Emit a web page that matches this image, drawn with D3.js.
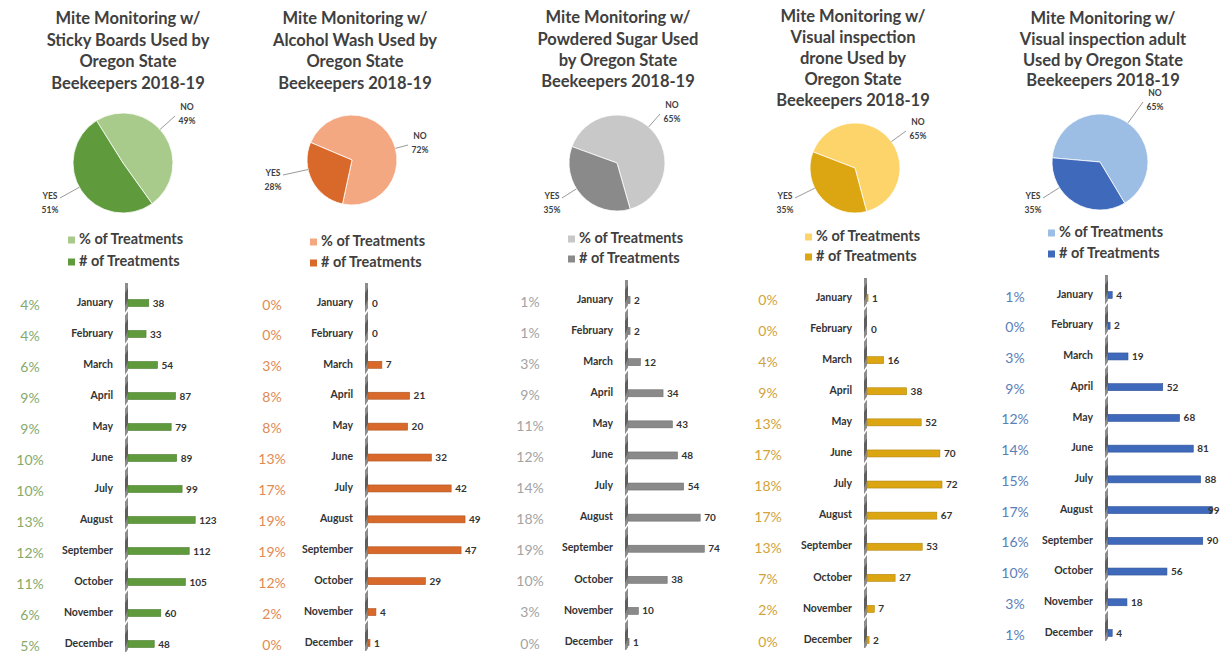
<!DOCTYPE html>
<html><head><meta charset="utf-8">
<script src="https://cdn.jsdelivr.net/npm/d3@7/dist/d3.min.js"></script>
<style>
html,body{margin:0;padding:0;background:#fff;}
svg{display:block;font-family:Lato, "Open Sans", sans-serif;}
</style></head>
<body><svg id="chart" width="1221" height="654"></svg>
<script>
// ---------- DATA ----------
const months = ["January","February","March","April","May","June","July","August","September","October","November","December"];

const titles = [
  ["Mite Monitoring w/","Sticky Boards Used by","Oregon State","Beekeepers 2018-19"],
  ["Mite Monitoring w/","Alcohol Wash Used by","Oregon State","Beekeepers 2018-19"],
  ["Mite Monitoring w/","Powdered Sugar Used","by Oregon State","Beekeepers 2018-19"],
  ["Mite Monitoring w/","Visual inspection","drone Used by","Oregon State","Beekeepers 2018-19"],
  ["Mite Monitoring w/","Visual inspection adult","Used by Oregon State","Beekeepers 2018-19"]
];

const stickyCounts  = [38,33,54,87,79,89,99,123,112,105,60,48];
const stickyPct     = [4,4,6,9,9,10,10,13,12,11,6,5];
const alcoholCounts = [0,0,7,21,20,32,42,49,47,29,4,1];
const alcoholPct    = [0,0,3,8,8,13,17,19,19,12,2,0];
const sugarCounts   = [2,2,12,34,43,48,54,70,74,38,10,1];
const sugarPct      = [1,1,3,9,11,12,14,18,19,10,3,0];
const droneCounts   = [1,0,16,38,52,70,72,67,53,27,7,2];
const dronePct      = [0,0,4,9,13,17,18,17,13,7,2,0];
const adultCounts   = [4,2,19,52,68,81,88,99,90,56,18,4];
const adultPct      = [1,0,3,9,12,14,15,17,16,10,3,1];

const pieNo  = [49,72,65,65,65];
const pieYes = [51,28,35,35,35];
const pieLabels = ["NO","YES"];
const legendLabels = ["% of Treatments","# of Treatments"];
const xAxisMax = [183, 50.5, 97, 96, 95];

const countsList = [stickyCounts, alcoholCounts, sugarCounts, droneCounts, adultCounts];
const pctList = [stickyPct, alcoholPct, sugarPct, dronePct, adultPct];

// ---------- LAYOUT / STYLE ----------
const panels = [
  {tx:128, ty:20, lh:21.5, cx:123, cy:163, r:50, start:-32, no:[187,108], yes:[50,197],
   leg:[68,240], legGap:22, ax:127, y0:303, y1:644, px:30,
   dark:"#5f9b3d", light:"#a8cb8c", pctCol:"#86a96a"},
  {tx:355, ty:20, lh:21.5, cx:352, cy:160, r:45, start:-67, no:[420,137], yes:[273,174],
   leg:[310,242], legGap:21, ax:367, y0:303, y1:643, px:272,
   dark:"#d8692a", light:"#f3a882", pctCol:"#df8a52"},
  {tx:618, ty:19, lh:21.3, cx:617, cy:163, r:48, start:-70, no:[672,106], yes:[552,197],
   leg:[568,239], legGap:20, ax:627, y0:300, y1:642, px:530,
   dark:"#8a8a8a", light:"#c8c8c8", pctCol:"#a3a3a3"},
  {tx:853, ty:18, lh:21, cx:855, cy:168, r:45, start:-69, no:[918,123], yes:[785,197],
   leg:[805,237], legGap:20, ax:866, y0:298, y1:640, px:768,
   dark:"#dca612", light:"#fdd46a", pctCol:"#d1a33a"},
  {tx:1103, ty:20, lh:20.7, cx:1100, cy:162, r:48, start:-85, no:[1155,94], yes:[1033,197],
   leg:[1048,233], legGap:21, ax:1107, y0:295, y1:633, px:1015,
   dark:"#3f69bb", light:"#9cbde4", pctCol:"#5a80b8"}
];

const svg = d3.select("#chart");
const rad = Math.PI/180;
const barRange = 100;
const W = 1221;

panels.forEach((p, i) => {
  const g = svg.append("g");

  // Title
  g.append("g").selectAll("text").data(titles[i]).join("text")
    .attr("x", p.tx).attr("y", (d, k) => p.ty + k * p.lh)
    .attr("text-anchor", "middle").attr("dominant-baseline", "middle")
    .attr("font-size", 16.5).attr("font-weight", 700).attr("fill", "#404040")
    .text(d => d);

  // Pie
  const pieData = [pieNo[i], pieYes[i]];
  const pie = d3.pie().sort(null).startAngle(p.start * rad).endAngle(p.start * rad + 2 * Math.PI);
  const arc = d3.arc().innerRadius(0).outerRadius(p.r);
  const pg = g.append("g").attr("transform", `translate(${p.cx},${p.cy})`);
  pg.selectAll("path").data(pie(pieData)).join("path")
    .attr("d", arc)
    .attr("fill", (d, k) => k === 0 ? p.light : p.dark)
    .attr("stroke", "#ffffff").attr("stroke-width", 0.8);

  // Pie labels with leader lines
  const labs = [
    {name: pieLabels[0], val: pieNo[i], pos: p.no, lead: [p.no[0] - 12, p.no[1] + 8]},
    {name: pieLabels[1], val: pieYes[i], pos: p.yes, lead: [p.yes[0] + 10, p.yes[1] + 1]}
  ];
  labs.forEach(L => {
    const dx = L.lead[0] - p.cx, dy = L.lead[1] - p.cy;
    const len = Math.sqrt(dx*dx + dy*dy);
    g.append("line")
      .attr("x1", L.lead[0]).attr("y1", L.lead[1])
      .attr("x2", p.cx + dx / len * p.r).attr("y2", p.cy + dy / len * p.r)
      .attr("stroke", "#7f7f7f").attr("stroke-width", 0.8);
    g.append("text").attr("x", L.pos[0]).attr("y", L.pos[1])
      .attr("text-anchor", "middle").attr("dominant-baseline", "middle")
      .attr("font-size", 8.5).attr("font-weight", 700).attr("fill", "#404040").text(L.name);
    g.append("text").attr("x", L.pos[0]).attr("y", L.pos[1] + 14)
      .attr("text-anchor", "middle").attr("dominant-baseline", "middle")
      .attr("font-size", 8.5).attr("font-weight", 700).attr("fill", "#404040").text(L.val + "%");
  });

  // Legend
  legendLabels.forEach((t, k) => {
    const ly = p.leg[1] + k * p.legGap;
    g.append("rect").attr("x", p.leg[0]).attr("y", ly - 3.5).attr("width", 7).attr("height", 7)
      .attr("fill", k === 0 ? p.light : p.dark);
    g.append("text").attr("x", p.leg[0] + 11).attr("y", ly)
      .attr("dominant-baseline", "middle").attr("font-size", 14.5).attr("font-weight", 700)
      .attr("fill", "#404040").text(t);
  });

  // Bar chart
  const y = d3.scalePoint().domain(months).range([p.y0, p.y1]);
  const x = d3.scaleLinear().domain([0, xAxisMax[i]]).range([p.ax + 1, p.ax + 1 + barRange]);
  const counts = countsList[i];
  const pcts = pctList[i];
  const bh = 7;

  // axis strip (3D wall edge)
  g.append("rect").attr("x", p.ax - 2).attr("y", p.y0 - 20).attr("width", 3)
    .attr("height", p.y1 - p.y0 + 28).attr("fill", "#8c8c8c");
  months.forEach(m => {
    const yc = y(m);
    g.append("polygon")
      .attr("points", `${p.ax-2},${yc+bh/2} ${p.ax-2},${yc-10} ${p.ax+1},${yc-15} ${p.ax+1},${yc-bh/2}`)
      .attr("fill", "#5e5e5e");
    g.append("line").attr("x1", p.ax - 2.5).attr("y1", yc + 12).attr("x2", p.ax + 1.5).attr("y2", yc + 6)
      .attr("stroke", "#ffffff").attr("stroke-width", 1.6);
  });

  g.append("g").selectAll("rect").data(counts).join("rect")
    .attr("x", x(0)).attr("y", (d, k) => y(months[k]) - bh / 2)
    .attr("width", d => x(d) - x(0)).attr("height", bh)
    .attr("fill", p.dark).attr("stroke", d3.color(p.dark).darker(0.6)).attr("stroke-width", 0.6);

  // month labels
  g.append("g").selectAll("text").data(months).join("text")
    .attr("x", p.ax - 14).attr("y", d => y(d))
    .attr("text-anchor", "end").attr("dominant-baseline", "middle")
    .attr("font-size", 10.5).attr("font-weight", 700).attr("fill", "#333").text(d => d);

  // value labels
  g.append("g").selectAll("text").data(counts).join("text")
    .attr("x", d => Math.min(x(d) + 4, W - 13)).attr("y", (d, k) => y(months[k]) + 1)
    .attr("dominant-baseline", "middle")
    .attr("font-size", 10).attr("font-weight", 700).attr("fill", "#333").text(d => d);

  // percent labels
  g.append("g").selectAll("text").data(pcts).join("text")
    .attr("x", p.px).attr("y", (d, k) => y(months[k]) + 3)
    .attr("text-anchor", "middle").attr("dominant-baseline", "middle")
    .attr("font-size", 14).attr("fill", p.pctCol).text(d => d + "%");
});
</script>
</body></html>
